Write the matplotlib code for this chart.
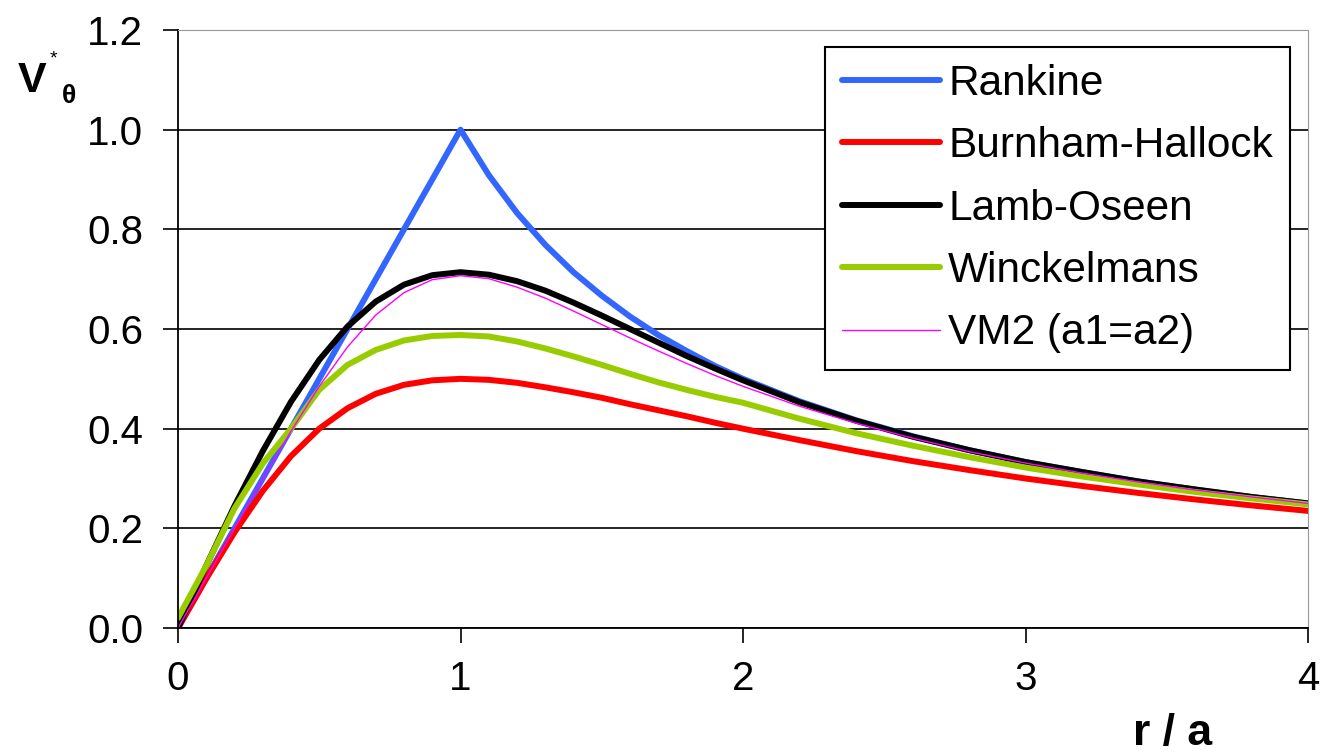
import matplotlib
matplotlib.use("Agg")
import matplotlib.pyplot as plt

plt.rcParams['font.family'] = ['Liberation Sans', 'DejaVu Sans']

# r/a sample positions
r = [0.0, 0.1, 0.2, 0.3, 0.4, 0.5, 0.6, 0.7, 0.8, 0.9, 1.0,
     1.1, 1.2, 1.3, 1.4, 1.5, 1.6, 1.7, 1.8, 1.9, 2.0,
     2.2, 2.4, 2.6, 2.8, 3.0, 3.2, 3.4, 3.6, 3.8, 4.0]

rankine = [0.0, 0.10, 0.20, 0.30, 0.40, 0.50, 0.60, 0.70, 0.80, 0.90, 1.00,
           0.909, 0.833, 0.769, 0.714, 0.667, 0.625, 0.588, 0.556, 0.526, 0.500,
           0.455, 0.417, 0.385, 0.357, 0.333, 0.313, 0.294, 0.278, 0.263, 0.250]

burnham = [0.0, 0.099, 0.192, 0.275, 0.345, 0.400, 0.441, 0.470, 0.488, 0.497, 0.500,
           0.498, 0.492, 0.483, 0.473, 0.462, 0.449, 0.437, 0.425, 0.412, 0.400,
           0.377, 0.355, 0.335, 0.317, 0.300, 0.285, 0.271, 0.258, 0.246, 0.235]

lamb = [0.0, 0.125, 0.245, 0.355, 0.454, 0.538, 0.605, 0.655, 0.689, 0.708, 0.714,
        0.709, 0.696, 0.677, 0.653, 0.627, 0.600, 0.573, 0.546, 0.521, 0.497,
        0.453, 0.416, 0.384, 0.357, 0.333, 0.313, 0.294, 0.278, 0.263, 0.250]

winckelmans = [0.02, 0.125, 0.240, 0.330, 0.400, 0.478, 0.528, 0.558, 0.577, 0.586, 0.588,
               0.585, 0.575, 0.561, 0.545, 0.528, 0.510, 0.493, 0.478, 0.464, 0.452,
               0.420, 0.391, 0.366, 0.343, 0.322, 0.304, 0.288, 0.273, 0.260, 0.248]

vm2 = [0.0, 0.100, 0.200, 0.299, 0.395, 0.485, 0.564, 0.628, 0.673, 0.699, 0.707,
       0.701, 0.684, 0.662, 0.636, 0.609, 0.582, 0.556, 0.531, 0.507, 0.485,
       0.445, 0.411, 0.381, 0.354, 0.331, 0.311, 0.293, 0.277, 0.263, 0.250]

series = [
    ('Rankine', rankine, '#3366FF', 4.3),
    ('Burnham-Hallock', burnham, '#FF0000', 4.3),
    ('Lamb-Oseen', lamb, '#000000', 4.3),
    ('Winckelmans', winckelmans, '#99CC00', 4.3),
    ('VM2 (a1=a2)', vm2, '#FF00FF', 1.0),
]

fig = plt.figure(figsize=(13.23, 7.53), dpi=100)
ax = fig.add_axes([178 / 1323, 125 / 753, 1130 / 1323, 598 / 753])

for label, vals, color, lw in series:
    ax.plot(r, vals, color=color, lw=lw, label=label, solid_capstyle='round')

ax.set_xlim(0, 4)
ax.set_ylim(0, 1.2)
ax.set_xticks([0, 1, 2, 3, 4])
ax.set_xticklabels(['0', '1', '2', '3', '4'])
ax.set_yticks([0.0, 0.2, 0.4, 0.6, 0.8, 1.0, 1.2])
ax.set_yticklabels(['0.0', '0.2', '0.4', '0.6', '0.8', '1.0', '1.2'])
ax.tick_params(axis='both', labelsize=29, length=11, width=1.2, direction='out')
ax.tick_params(axis='y', pad=14)
ax.tick_params(axis='x', pad=12)
ax.yaxis.grid(True, color='black', lw=1.2)
ax.set_axisbelow(True)

ax.spines['left'].set_color('black')
ax.spines['bottom'].set_color('black')
ax.spines['left'].set_linewidth(1.3)
ax.spines['bottom'].set_linewidth(1.3)
ax.spines['top'].set_color('#999999')
ax.spines['right'].set_color('#999999')

leg = ax.legend(loc='upper right', bbox_to_anchor=(0.984, 0.972),
                fontsize=30.5, frameon=True, fancybox=False,
                edgecolor='black', framealpha=1, borderaxespad=0,
                handlelength=2.3, handletextpad=0.2, labelspacing=0.53,
                borderpad=0.4)
leg.get_frame().set_linewidth(1.5)

# axis labels
fig.text(18 / 1323, 1 - 92 / 753, 'V', fontsize=31, fontweight='bold',
         ha='left', va='baseline')
fig.text(50 / 1323, 1 - 50 / 753, '*', fontsize=14,
         ha='left', va='top')
fig.text(62 / 1323, 1 - 103 / 753, 'θ', fontsize=19, fontweight='bold',
         ha='left', va='baseline')
fig.text(1133 / 1323, 1 - 745 / 753, 'r / a', fontsize=32, fontweight='bold',
         ha='left', va='baseline')

fig.savefig('out.png', dpi=100)
